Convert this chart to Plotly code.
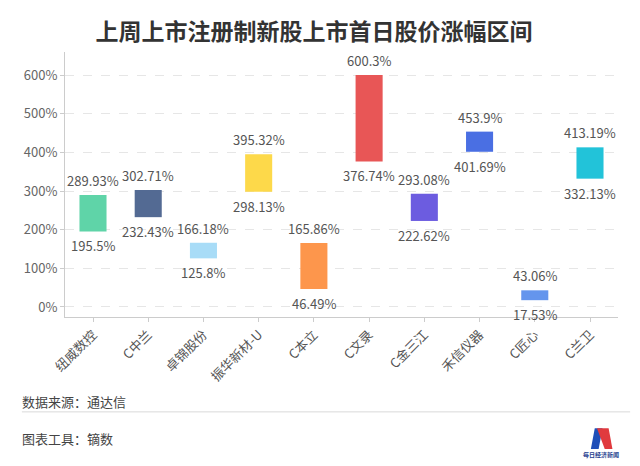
import plotly.graph_objects as go

# données : nom du titre, bas / haut de la fourchette (%)
noms = ["纽威数控", "C中兰", "卓锦股份", "振华新材-U", "C本立", "C文录", "C金三江", "禾信仪器", "C匠心", "C兰卫"]
bas = [195.5, 232.43, 125.8, 298.13, 46.49, 376.74, 222.62, 401.69, 17.53, 332.13]
haut = [289.93, 302.71, 166.18, 395.32, 165.86, 600.3, 293.08, 453.9, 43.06, 413.19]
couleurs = ["#5fd4a8", "#536a93", "#a8dcf7", "#fdd94a", "#fd964c",
            "#e85656", "#6c5ce0", "#4a6fe3", "#6495ed", "#22c3d9"]

police = "Noto Sans CJK SC"

fig = go.Figure()

#barres flottantes : base = bas, hauteur = haut - bas
fig.add_trace(go.Bar(
    x=noms, y=[h - b for h, b in zip(haut, bas)], base=bas,
    marker=dict(color=couleurs, line=dict(width=0)),
    width=0.49, hoverinfo="skip", showlegend=False))

#étiquettes haut et bas
for n, h, b in zip(noms, haut, bas):
    fig.add_annotation(x=n, y=h, text=f"{h:g}%", showarrow=False, yanchor="bottom", yshift=3,
                       font=dict(size=13, color="#555555"))
    fig.add_annotation(x=n, y=b, text=f"{b:g}%", showarrow=False, yanchor="top", yshift=-3,
                       font=dict(size=13, color="#555555"))

#la page ajoute ~8 px de marge : on décale le cadre d'autant
fig.update_layout(
    width=640, height=466,
    margin=dict(l=57, r=30, t=44, b=157),
    plot_bgcolor="white", paper_bgcolor="white",
    font=dict(family=police, color="#666666", size=12),
    title=dict(text="<b>上周上市注册制新股上市首日股价涨幅区间</b>",
               x=0.478, xanchor="center", y=0.948, yanchor="middle",
               font=dict(size=23, color="#333333", family=police)))

fig.update_yaxes(range=[-26, 660], dtick=100, ticksuffix="%", automargin=False,
                 showgrid=True, gridcolor="#e6e6e6", griddash="dash", gridwidth=1,
                 zeroline=False, showline=True, linecolor="#cccccc",
                 ticks="outside", ticklen=4, tickcolor="#cccccc",
                 tickfont=dict(size=13, color="#666666"))
fig.update_xaxes(tickangle=-45, showline=True, linecolor="#cccccc", automargin=False,
                 ticks="outside", ticklen=4, tickcolor="#cccccc",
                 tickfont=dict(size=13, color="#555555"), showgrid=False)

#pied de page
fig.add_annotation(text="数据来源：通达信", xref="paper", yref="paper", x=-0.082, y=-0.32,
                   xanchor="left", yanchor="middle", showarrow=False,
                   font=dict(size=13, color="#444444"))
fig.add_annotation(text="图表工具：镝数", xref="paper", yref="paper", x=-0.082, y=-0.457,
                   xanchor="left", yanchor="middle", showarrow=False,
                   font=dict(size=13, color="#444444"))
fig.add_shape(type="line", xref="paper", yref="paper", x0=-0.078, x1=1.022, y0=-0.358, y1=-0.358,
              line=dict(color="#d9d9d9", width=1))

#logo approximatif
fig.add_shape(type="path", xref="paper", yref="paper",
              path="M 0.951 -0.498 L 0.958 -0.42 L 0.972 -0.42 L 0.965 -0.498 Z",
              fillcolor="#1f4fb8", line=dict(width=0))
fig.add_shape(type="path", xref="paper", yref="paper",
              path="M 0.962 -0.42 L 0.976 -0.498 L 0.990 -0.498 L 0.983 -0.42 Z",
              fillcolor="#e03a3e", line=dict(width=0))
fig.add_annotation(text="<b>每日经济新闻</b>", xref="paper", yref="paper", x=0.97, y=-0.52,
                   xanchor="center", yanchor="middle", showarrow=False,
                   font=dict(size=6, color="#1f3f8f"))

fig.write_html("out.html")
